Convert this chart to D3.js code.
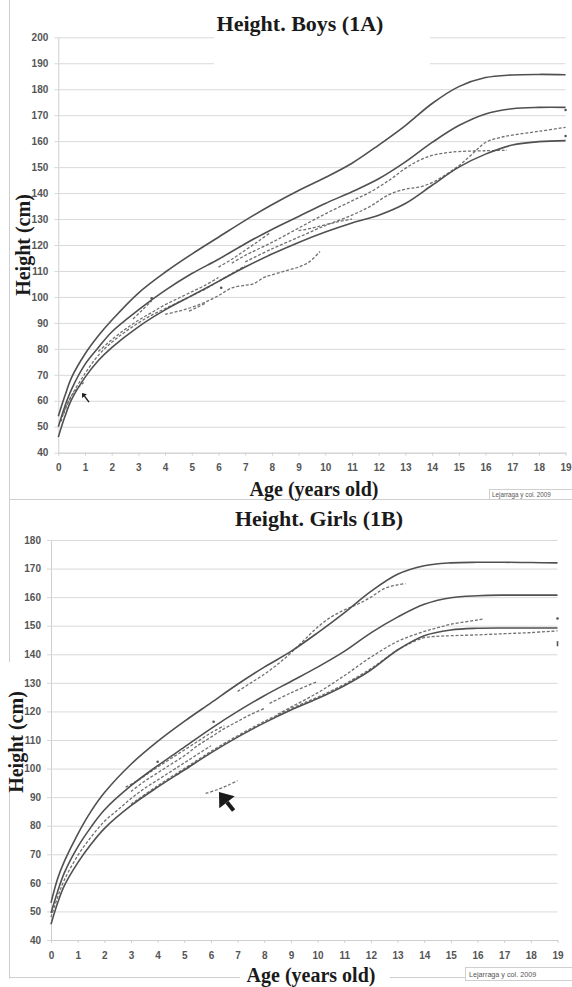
<!DOCTYPE html>
<html><head><meta charset="utf-8">
<script src="https://cdn.jsdelivr.net/npm/d3@7"></script>
<style>
html,body{margin:0;padding:0;background:#fff;}
svg{display:block;}
</style></head><body>
<svg id="c" width="572" height="987"></svg>
<script>
// ---------------- DATA ----------------
const ageTicks = [0,1,2,3,4,5,6,7,8,9,10,11,12,13,14,15,16,17,18,19];
const boysHeightTicks = [40,50,60,70,80,90,100,110,120,130,140,150,160,170,180,190,200];
const girlsHeightTicks = [40,50,60,70,80,90,100,110,120,130,140,150,160,170,180];

const refAges = [0,0.25,0.5,1,1.5,2,3,4,5,6,7,8,9,10,11,12,13,14,15,16,17,18,19];
const boysP97 = [54,62,69,78,85,91,101.5,109.5,116.5,123,129.5,135.5,141,146,151.5,158.5,166,174.5,181,184.5,185.5,185.7,185.6];
const boysP50 = [50,58,64.5,74,80.5,86.5,95,102.5,109,114.5,120.5,126,131,136,140.5,145.5,152,159.5,166,170.5,172.5,173,173];
const boysP3  = [46,54,60.5,69,75.5,80.5,88.5,95,100.5,106,111.5,116.5,121,125,128.5,131.5,136,143,150,155,158.5,159.8,160.2];

const girlsP97 = [53,61.5,67.5,77,85,91.5,101.5,109.5,116.5,123,129.5,135.5,141,147.5,154.5,162,168,171,172,172.2,172.2,172.1,172];
const girlsP50 = [49.5,57,63.5,72.5,79.5,85.5,94,101,107.5,114,120,125.5,130.5,135.5,141,147.5,153,157.5,159.8,160.5,160.7,160.7,160.7];
const girlsP3  = [45.5,53,59,67,73.5,79,87,93.5,99.5,105.5,111,116,120.5,124.5,129,134.5,141.5,146.5,148.5,149.1,149.2,149.2,149.2];

// patients (age, height)
const boysPatA = [[6.5,113],[7,116],[8,121],[9,126.5],[10,132],[11,137],[11.7,140.5],[12.4,145],[13,149.5],[13.5,152.5],[14,154.5],[14.5,155.5],[15,156],[16,156.3],[16.8,156.5]];
const boysPatB = [[7,113.5],[8,118.5],[9,123],[10,127.5],[11,131.5],[11.7,135],[12.4,139.5],[13,141.5],[13.5,142.3],[14,144],[14.5,147],[15,150.5],[15.5,155],[16,159.5],[16.5,161.3],[17,162.3],[18,163.8],[19,165.3]];
const boysPatC = [[4,93.3],[4.5,94.5],[5,96],[5.5,98],[6,100.5],[6.5,103.5],[7,104.5],[7.3,105],[7.7,107.5],[8,108.5],[8.5,110],[9,111.5],[9.4,113.5],[9.8,117.5]];
const boysPatD = [[6,111.5],[6.5,114.5],[7,118],[7.5,121.5],[7.9,124.5]];
const boysPatE = [[9,125.5],[9.5,126.5],[10,127.8],[10.5,129],[11,130]];
const boysPatF = [[0.1,52],[0.3,58],[0.6,63.5],[0.95,67]];
const boysPatG = [[0.2,55],[0.5,62],[1,70.5],[1.5,77.5],[2,82.5],[2.5,86.5],[3,90],[3.5,93],[4,95.5],[4.5,98],[5,100.5],[5.5,103],[6,106],[6.5,109],[7,112]];
const boysPatH = [[1.5,79],[2,83.5],[2.5,87.5],[3,91],[3.5,94],[4,97],[4.5,99.5],[5,102],[5.5,104.5],[6,107.5]];
const boysPatI = [[2.8,91.5],[3.1,94.5],[3.5,98.5]];
const boysPatJ = [[4.9,94.5],[5.2,96],[5.5,97.5]];
const boysDots = [[3.5,99.5],[6.1,103.5],[19,162],[19,172]];
const boysArrow = [[1.15,59.5],[0.89,63]];

const girlsPatA = [[7,127],[7.5,130],[8,133],[8.5,136.5],[9,140.5],[9.5,145],[10,149.5],[10.5,153],[11,155.5],[11.5,157.5],[12,160],[12.5,163],[13,164.3],[13.3,164.7]];
const girlsPatB = [[8.2,122.8],[9,126.5],[10,130.5]];
const girlsPatC = [[3,92],[3.5,95.5],[4,98.5],[4.5,101.5],[5,104.5],[5.5,108],[6,111],[6.5,114],[7,116.5],[7.5,119],[8,121]];
const girlsPatD = [[8.5,119],[9,121.5],[10,126.5],[11,132.5],[12,139],[13,144.5],[14,148],[14.5,149.3],[15,150.5],[16,152],[16.2,152.3]];
const girlsPatE = [[3,87.5],[4,94],[5,100],[6,106],[7,111.5],[8,116.5],[9,121],[10,125],[11,129.5],[12,135],[13,141.5],[13.5,144],[14,145.8],[14.5,146.3],[15,146.5],[16,146.8],[17,147.2],[18,147.6],[19,148.2]];
const girlsPatF = [[5.8,91.3],[6.2,92.5],[6.6,94],[7,95.8]];
const girlsPatG = [[0,48],[0.25,55],[0.5,61],[1,69.5],[1.5,76],[2,81.5],[2.5,85.5],[3,89.5],[3.5,93],[4,96],[4.5,99],[5,102],[5.5,105],[6,108]];
const girlsPatH = [[2.8,93.5],[3.2,95.5],[3.6,98],[4,100.5],[4.5,103.5],[5,106.5],[5.5,109.5],[6,112.5],[6.5,115]];
const girlsDots = [[4,102.4],[6.1,116.4],[19,152.5]];
const girlsBar = [[19,142.8],[19,144.6]];
const girlsArrow = [[6.85,85.3],[6.3,91.8]];

// ---------------- DRAW ----------------
const svg = d3.select('#c');
const SERIF = "'Liberation Serif','Times New Roman',serif";
const SANS = "'Liberation Sans',Arial,sans-serif";
const GRID = '#d9d9d9', FRAME = '#cfcfcf', SOLID = '#505050', DASH = '#707070';

function drawChart(cfg){
  const g = svg.append('g');
  const x = d3.scaleLinear().domain([0,19]).range(cfg.xr);
  const y = d3.scaleLinear().domain([cfg.yTicks[0], cfg.yTicks[cfg.yTicks.length-1]]).range(cfg.yr);
  const W = cfg.xr[1]-cfg.xr[0];

  const ya = g.append('g').attr('transform',`translate(${cfg.xr[0]},0)`)
    .call(d3.axisLeft(y).tickValues(cfg.yTicks).tickSizeInner(-W).tickSizeOuter(0).tickPadding(10));
  ya.select('.domain').attr('stroke',FRAME);
  ya.selectAll('.tick line').attr('stroke',GRID).attr('stroke-width',1);
  ya.selectAll('.tick text').attr('font-family',SANS).attr('font-size',10).attr('fill','#555').attr('font-weight','bold');
  const ys = g.append('g').attr('transform',`translate(${cfg.xr[0]},0)`)
    .call(d3.axisLeft(y).tickValues(cfg.yTicks).tickSize(4).tickFormat(''));
  ys.select('.domain').remove();
  ys.selectAll('.tick line').attr('stroke',GRID);

  const xa = g.append('g').attr('transform',`translate(0,${cfg.yr[0]})`)
    .call(d3.axisBottom(x).tickValues(ageTicks).tickSizeInner(3).tickSizeOuter(0).tickPadding(8.5));
  xa.select('.domain').attr('stroke',FRAME);
  xa.selectAll('.tick line').attr('stroke',FRAME);
  xa.selectAll('.tick text').attr('font-family',SANS).attr('font-size',10).attr('fill','#555').attr('font-weight','bold');

  const line = d3.line().x(d=>x(d[0])).y(d=>y(d[1])).curve(d3.curveCatmullRom.alpha(0.5));

  cfg.dashed.forEach(s=>{
    g.append('path').attr('d',line(s)).attr('fill','none').attr('stroke',DASH)
      .attr('stroke-width',1.3).attr('stroke-dasharray','3,1.8');
  });
  cfg.solid.forEach(vals=>{
    g.append('path').attr('d',line(refAges.map((a,i)=>[a,vals[i]]))).attr('fill','none')
      .attr('stroke',SOLID).attr('stroke-width',1.6);
  });
  cfg.dots.forEach(d=>{
    g.append('circle').attr('cx',x(d[0])).attr('cy',y(d[1])).attr('r',1.3).attr('fill','#555');
  });
  if(cfg.bar){
    g.append('line').attr('x1',x(cfg.bar[0][0])).attr('x2',x(cfg.bar[1][0]))
      .attr('y1',y(cfg.bar[0][1])).attr('y2',y(cfg.bar[1][1])).attr('stroke','#555').attr('stroke-width',1.6);
  }
  const a0=[x(cfg.arrow[0][0]),y(cfg.arrow[0][1])], a1=[x(cfg.arrow[1][0]),y(cfg.arrow[1][1])];
  const ang=Math.atan2(a1[1]-a0[1],a1[0]-a0[0]);
  const hl=cfg.arrowHead, hw=cfg.arrowHead*0.75;
  const bx=a1[0]-hl*Math.cos(ang), by=a1[1]-hl*Math.sin(ang);
  g.append('line').attr('x1',a0[0]).attr('y1',a0[1]).attr('x2',bx).attr('y2',by)
    .attr('stroke','#1a1a1a').attr('stroke-width',cfg.arrowW);
  g.append('path').attr('d',`M${a1[0]},${a1[1]}L${bx+hw*Math.sin(ang)},${by-hw*Math.cos(ang)}L${bx-hw*Math.sin(ang)},${by+hw*Math.cos(ang)}Z`)
    .attr('fill','#1a1a1a');
  return {x,y};
}

// frames
svg.append('line').attr('x1',9.5).attr('x2',9.5).attr('y1',0).attr('y2',978.5).attr('stroke',FRAME);
svg.append('line').attr('x1',9.5).attr('x2',572).attr('y1',499.5).attr('y2',499.5).attr('stroke',FRAME);
svg.append('line').attr('x1',9.5).attr('x2',572).attr('y1',977.5).attr('y2',977.5).attr('stroke',FRAME);

// Boys
drawChart({
  xr:[58.3,565.6], yr:[452.7,37.3], yTicks:boysHeightTicks,
  solid:[boysP97,boysP50,boysP3],
  dashed:[boysPatA,boysPatB,boysPatC,boysPatD,boysPatE,boysPatF,boysPatG,boysPatH,boysPatI,boysPatJ],
  dots:boysDots, arrow:boysArrow, arrowHead:4, arrowW:1.4
});
svg.append('rect').attr('x',214).attr('y',0).attr('width',216).attr('height',65).attr('fill','#fff');
svg.append('text').attr('x',300).attr('y',30.5).attr('text-anchor','middle').attr('font-family',SERIF)
  .attr('font-weight','bold').attr('font-size',22).attr('fill','#1a1a1a').text('Height. Boys (1A)');
svg.append('text').attr('transform','translate(30,245) rotate(-90)').attr('text-anchor','middle')
  .attr('font-family',SERIF).attr('font-weight','bold').attr('font-size',20).attr('fill','#1a1a1a').text('Height (cm)');
svg.append('text').attr('x',314).attr('y',495.5).attr('text-anchor','middle').attr('font-family',SERIF)
  .attr('font-weight','bold').attr('font-size',20).attr('fill','#1a1a1a').text('Age (years old)');
svg.append('rect').attr('x',489.5).attr('y',489.5).attr('width',90).attr('height',10).attr('fill','#fff').attr('stroke','#cfcfcf');
svg.append('text').attr('x',492).attr('y',497.2).attr('font-family',SANS).attr('font-size',6.3).attr('fill','#555').text('Lejarraga y col. 2009');

// Girls
drawChart({
  xr:[51,557.5], yr:[940,540], yTicks:girlsHeightTicks,
  solid:[girlsP97,girlsP50,girlsP3],
  dashed:[girlsPatA,girlsPatB,girlsPatC,girlsPatD,girlsPatE,girlsPatF,girlsPatG,girlsPatH],
  dots:girlsDots, bar:girlsBar, arrow:girlsArrow, arrowHead:13, arrowW:4
});
svg.append('text').attr('x',319).attr('y',526).attr('text-anchor','middle').attr('font-family',SERIF)
  .attr('font-weight','bold').attr('font-size',22).attr('fill','#1a1a1a').text('Height. Girls (1B)');
svg.append('rect').attr('x',0).attr('y',662).attr('width',20).attr('height',131).attr('fill','#fff');
svg.append('text').attr('transform','translate(23,742) rotate(-90)').attr('text-anchor','middle')
  .attr('font-family',SERIF).attr('font-weight','bold').attr('font-size',20).attr('fill','#1a1a1a').text('Height (cm)');
svg.append('rect').attr('x',240).attr('y',966).attr('width',150).attr('height',21).attr('fill','#fff');
svg.append('text').attr('x',311).attr('y',981.5).attr('text-anchor','middle').attr('font-family',SERIF)
  .attr('font-weight','bold').attr('font-size',20).attr('fill','#1a1a1a').text('Age (years old)');
svg.append('rect').attr('x',465.5).attr('y',967.5).attr('width',110).attr('height',13).attr('fill','#fff').attr('stroke','#cfcfcf');
svg.append('text').attr('x',469).attr('y',976.5).attr('font-family',SANS).attr('font-size',7.2).attr('fill','#555').text('Lejarraga y col. 2009');
</script>
</body></html>
